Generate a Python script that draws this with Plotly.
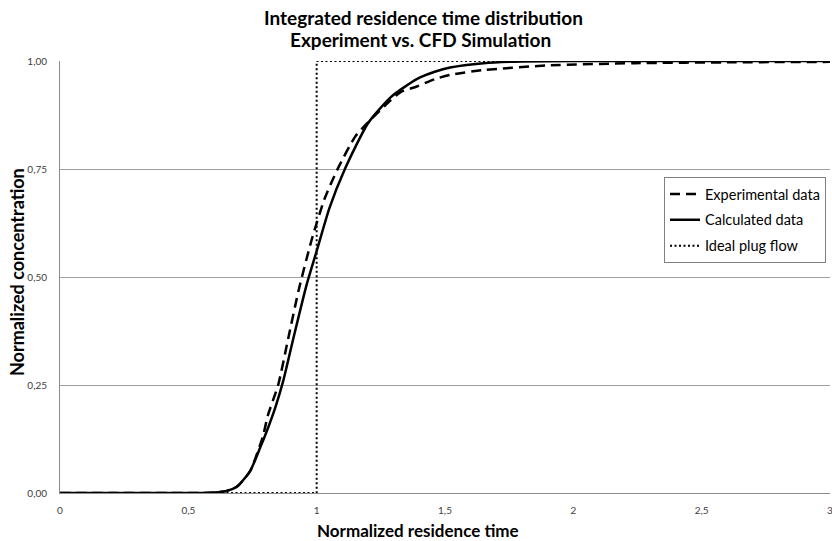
import plotly.graph_objects as go

# Calculated (CFD) data
calc_x = [0, 0.2, 0.4, 0.55, 0.6, 0.65, 0.69, 0.74, 0.78, 0.81, 0.84, 0.87, 0.91, 0.96,
          1.0, 1.05, 1.11, 1.2, 1.29, 1.39, 1.46, 1.52, 1.65, 1.8, 2.0, 2.5, 3.0]
calc_y = [0, 0, 0, 0, 0.001, 0.005, 0.015, 0.05, 0.105, 0.15, 0.2, 0.26, 0.36, 0.48,
          0.56, 0.66, 0.75, 0.856, 0.917, 0.958, 0.975, 0.985, 0.995, 0.999, 1.0, 1.0, 1.0]

# Experimental data
exp_x = [0, 0.2, 0.4, 0.55, 0.6, 0.65, 0.69, 0.74, 0.79, 0.81, 0.85, 0.89, 0.93, 0.98,
         1.03, 1.08, 1.15, 1.2, 1.29, 1.33, 1.39, 1.46, 1.52, 1.65, 1.91, 2.24, 2.63, 3.0]
exp_y = [0, 0, 0, 0, 0.001, 0.005, 0.015, 0.05, 0.13, 0.18, 0.25, 0.36, 0.47, 0.585,
         0.68, 0.748, 0.825, 0.858, 0.91, 0.929, 0.941, 0.958, 0.968, 0.979, 0.99, 0.995, 0.997, 0.998]

# Ideal plug flow
plug_x = [0, 1, 1, 3]
plug_y = [0, 0, 1, 1]

x_ticks = [0, 0.5, 1, 1.5, 2, 2.5, 3]
y_ticks = [0, 0.25, 0.5, 0.75, 1.0]

title_lines = ["Integrated residence time distribution", "Experiment vs. CFD Simulation"]
x_title = "Normalized residence time"
y_title = "Normalized concentration"

font_family = "Lato, 'Open Sans', sans-serif"

# plot area in pixels (for placing free text)
L, R, T, B = 60, 830, 61, 493
PW, PH = R - L, B - T

def px_x(p):
    return (p - L) / PW

def px_y(p):
    return (B - p) / PH

fig = go.Figure()
fig.add_trace(go.Scatter(x=exp_x, y=exp_y, mode="lines", name="Experimental data", legendgroup="a",
                         line=dict(color="black", width=2.5, dash="10px,6px", shape="spline", smoothing=0.6),
                         cliponaxis=False))
fig.add_trace(go.Scatter(x=calc_x, y=calc_y, mode="lines", name="Calculated data", legendgroup="b",
                         line=dict(color="black", width=2.5, shape="spline", smoothing=0.6),
                         cliponaxis=False))
fig.add_trace(go.Scatter(x=plug_x, y=plug_y, mode="lines", name="Ideal plug flow", legendgroup="c",
                         line=dict(color="black", width=2, dash="2px,2.5px"),
                         cliponaxis=False))

annotations = [
    dict(text="<b>" + title_lines[0] + "</b>", xref="paper", yref="paper",
         x=px_x(423), y=px_y(17), xanchor="center", yanchor="middle", showarrow=False,
         font=dict(size=19, family=font_family, color="black")),
    dict(text="<b>" + title_lines[1] + "</b>", xref="paper", yref="paper",
         x=px_x(420), y=px_y(40), xanchor="center", yanchor="middle", showarrow=False,
         font=dict(size=19, family=font_family, color="black")),
    dict(text="<b>" + x_title + "</b>", xref="paper", yref="paper",
         x=px_x(418), y=px_y(530), xanchor="center", yanchor="middle", showarrow=False,
         font=dict(size=17, family=font_family, color="black")),
    dict(text="<b>" + y_title + "</b>", xref="paper", yref="paper", textangle=-90,
         x=px_x(17), y=px_y(272), xanchor="center", yanchor="middle", showarrow=False,
         font=dict(size=18, family=font_family, color="black")),
    dict(text="3", xref="x", yref="paper", x=3, y=px_y(510), xanchor="center", yanchor="middle",
         showarrow=False, font=dict(size=10, family=font_family, color="#404040")),
]

fig.update_layout(
    width=832, height=541,
    margin=dict(l=L, r=832 - R, t=T, b=541 - B),
    paper_bgcolor="white", plot_bgcolor="white",
    font=dict(family=font_family, color="black"),
    separators=",.",
    showlegend=True,
    legend=dict(x=px_x(664), y=px_y(177), xanchor="left", yanchor="top",
                bgcolor="white", bordercolor="#808080", borderwidth=1,
                font=dict(size=14.5, family=font_family, color="black"),
                tracegroupgap=4),
    xaxis=dict(range=[0, 3], tickvals=x_ticks[:-1], showgrid=False, zeroline=False,
               showline=True, linecolor="#8c8c8c", linewidth=1,
               ticks="", tickfont=dict(size=10, color="#404040"),
               ticklabelstandoff=8, fixedrange=True),
    yaxis=dict(range=[0, 1], tickvals=y_ticks, tickformat=".2f",
               showgrid=True, gridcolor="#a0a0a0", gridwidth=1, zeroline=False,
               showline=True, linecolor="#8c8c8c", linewidth=1,
               ticks="", tickfont=dict(size=10, color="#404040"),
               ticklabelstandoff=10),
    annotations=annotations,
)

fig.write_html("out.html")
